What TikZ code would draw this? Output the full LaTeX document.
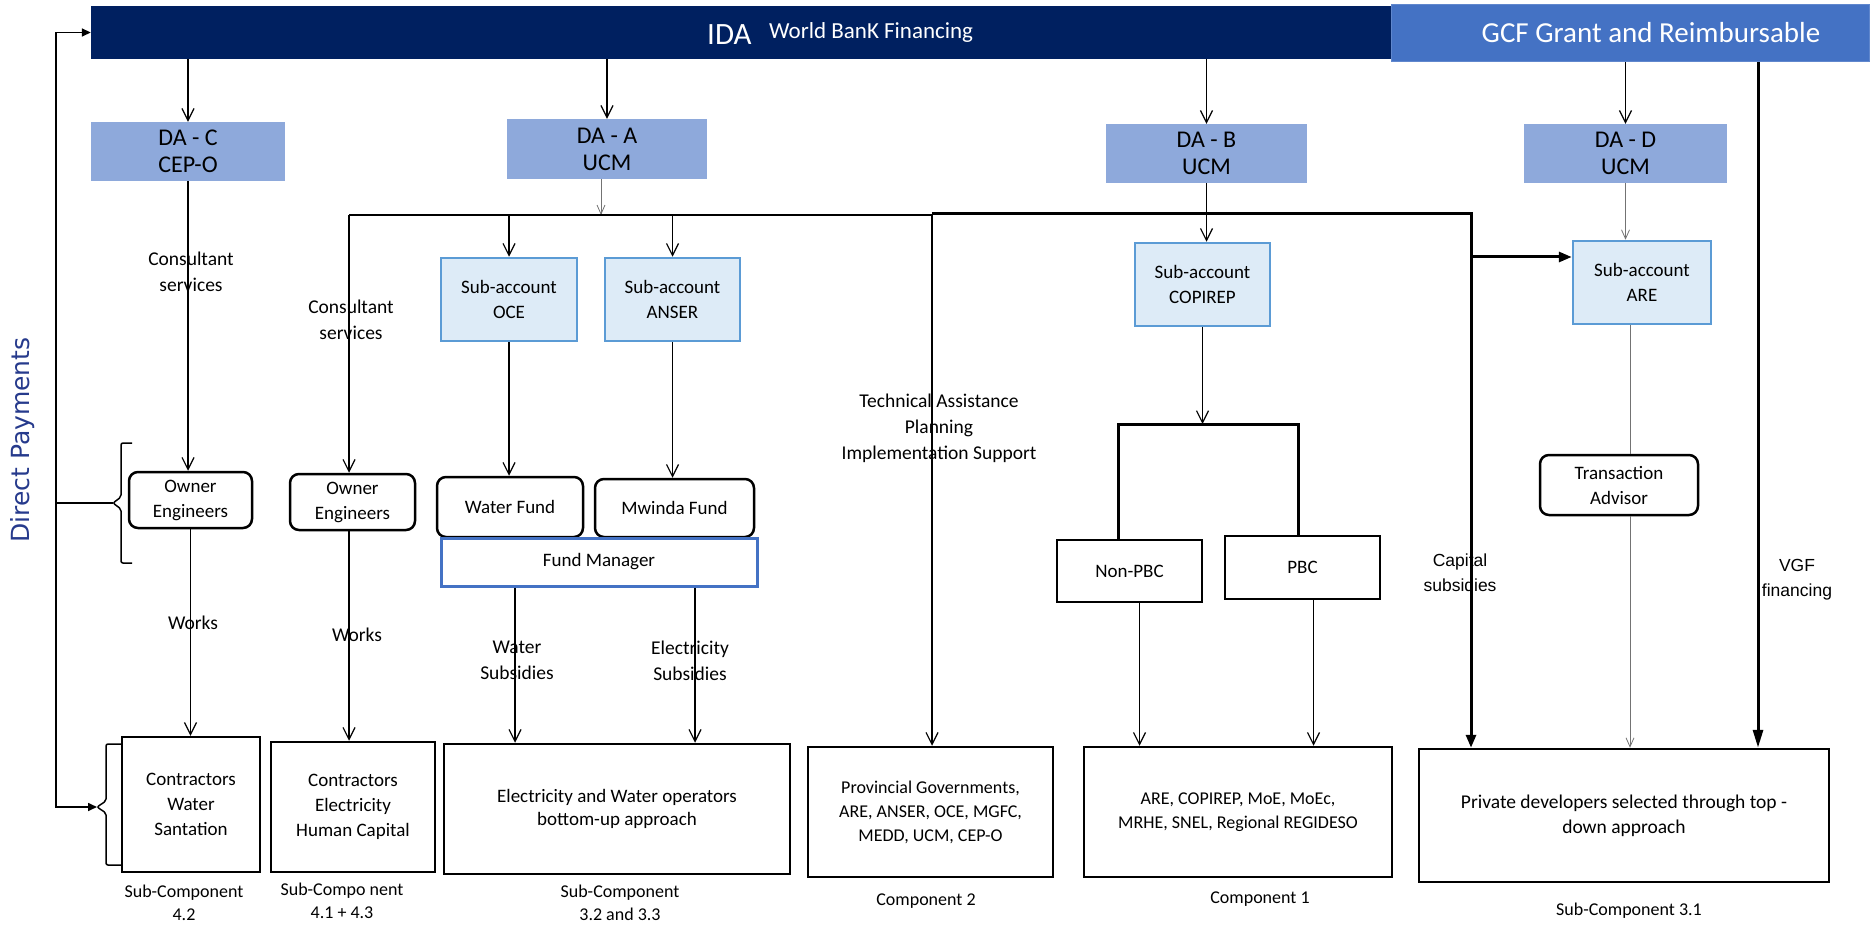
\documentclass[tikz,border=0pt]{standalone}
\usepackage{fontspec}
\setmainfont{Carlito}
\newfontfamily\dvsans{DejaVu Sans}
\newfontfamily\arialf{Liberation Sans}
\usetikzlibrary{arrows.meta}
\definecolor{idablue}{HTML}{002060}
\definecolor{gcfblue}{HTML}{4472C4}
\definecolor{dafill}{HTML}{8EA9DB}
\definecolor{subfill}{HTML}{DDEBF7}
\definecolor{subdraw}{HTML}{5B9BD5}
\definecolor{dptext}{RGB}{38,58,140}
\begin{document}
\begin{tikzpicture}[x=1pt,y=-1pt,
  every node/.style={inner sep=0pt, align=center, font=\fontsize{19}{25}\selectfont},
  dabox/.style={fill=dafill, font=\fontsize{24}{27}\selectfont},
  subbox/.style={fill=subfill, draw=subdraw, line width=2.5pt},
  rbox/.style={draw, line width=2.5pt, rounded corners=9pt},
  sbox/.style={draw, line width=2.5pt},
  fmbox/.style={draw=gcfblue, line width=3pt, fill=white},
  lbl/.style={font=\fontsize{19.5}{26}\selectfont},
  clbl/.style={font=\fontsize{18}{23}\selectfont},
  alabel/.style={font=\arialf\fontsize{17.5}{25}\selectfont},
  arr/.style={draw=black, line width=1.2pt, -{Straight Barb[length=12pt,width=12pt,line width=1.2pt]}},
  plain/.style={draw=black, line width=1.2pt},
  garr/.style={draw=black!55, line width=0.8pt, -{Straight Barb[length=9pt,width=8pt,line width=0.8pt]}},
  gline/.style={draw=black!55, line width=0.8pt},
  tline/.style={draw=black, line width=3pt},
  tarr/.style={draw=black, line width=3pt, -{Triangle[length=13pt,width=10pt]}},
  varr/.style={draw=black, line width=3pt, -{Triangle[length=18pt,width=10pt]}},
  dparr/.style={draw=black, line width=1.6pt, {Triangle[length=9pt,width=8pt]}-{Triangle[length=9pt,width=8pt]}},
  brk/.style={draw=black, line width=1.5pt, rounded corners=2pt}
]
\useasboundingbox (0,0) rectangle (1871,925);

% top bars
\node[fill=idablue, minimum width=1300pt, minimum height=53pt] (ida) at (741,32.5) {};
\node[fill=gcfblue, draw=gcfblue!85!white, line width=1pt, minimum width=478pt, minimum height=57pt] (gcf) at (1630,33.5) {};
\node[anchor=base west, text=white, font=\fontsize{31}{31}\selectfont] (idat) at (707,45) {IDA};
\node[anchor=base west, text=white, font=\fontsize{23}{23}\selectfont] (wbt) at (769,39) {World BanK Financing};
\node[anchor=base, text=white, font=\fontsize{29}{29}\selectfont] (gcft) at (1651,43) {GCF Grant and Reimbursable};

% DA boxes
\node[dabox, minimum width=194pt, minimum height=59pt] (dac) at (188,151.5) {DA - C\\CEP-O};
\node[dabox, minimum width=200pt, minimum height=60pt] (daa) at (607,149) {DA - A\\UCM};
\node[dabox, minimum width=201pt, minimum height=59pt] (dab) at (1206.5,153.5) {DA - B\\UCM};
\node[dabox, minimum width=203pt, minimum height=59pt] (dad) at (1625.5,153.5) {DA - D\\UCM};

% sub-accounts
\node[subbox, minimum width=136pt, minimum height=83pt] (oce) at (509,299.5) {Sub-account\\OCE};
\node[subbox, minimum width=135pt, minimum height=83pt] (anser) at (672.5,299.5) {Sub-account\\ANSER};
\node[subbox, minimum width=135pt, minimum height=83pt] (copirep) at (1202.5,284.5) {Sub-account\\COPIREP};
\node[subbox, minimum width=138pt, minimum height=83pt] (are) at (1642,282.5) {Sub-account\\ARE};

% middle boxes
\node[rbox, minimum width=123pt, minimum height=56pt] (oe1) at (190.5,500) {Owner\\Engineers};
\node[rbox, minimum width=125pt, minimum height=56pt] (oe2) at (352.5,502) {Owner\\Engineers};
\node[rbox, minimum width=146pt, minimum height=60pt] (wf) at (510,507) {Water Fund};
\node[rbox, minimum width=159pt, minimum height=58pt] (mf) at (674.5,508) {Mwinda Fund};
\node[fmbox, minimum width=316pt, minimum height=48pt] (fm) at (599,562) {Fund Manager};
\node[rbox, minimum width=158pt, minimum height=60pt] (ta) at (1619,485) {Transaction\\Advisor};
\node[sbox, minimum width=145pt, minimum height=62pt] (npbc) at (1129.5,571) {Non-PBC};
\node[sbox, minimum width=155pt, minimum height=63pt] (pbc) at (1302.5,567.5) {PBC};

% bottom boxes
\node[sbox, minimum width=138pt, minimum height=135pt] (cws) at (191,804.5) {Contractors\\Water\\Santation};
\node[sbox, minimum width=164pt, minimum height=130pt] (ceh) at (353,807) {Contractors\\Electricity\\Human Capital};
\node[sbox, minimum width=346pt, minimum height=130pt] (ewo) at (617,809) {Electricity and Water operators\\[-2pt]bottom-up approach};
\node[sbox, minimum width=245pt, minimum height=130pt, font=\fontsize{18}{24}\selectfont] (prov) at (930.5,812) {Provincial Governments,\\ARE, ANSER, OCE, MGFC,\\MEDD, UCM, CEP-O};
\node[sbox, minimum width=308pt, minimum height=130pt, font=\fontsize{18}{24}\selectfont] (comp1b) at (1238,812) {ARE, COPIREP, MoE, MoEc,\\MRHE, SNEL, Regional REGIDESO};
\node[sbox, minimum width=410pt, minimum height=133pt, font=\fontsize{19.5}{25}\selectfont] (priv) at (1624,815.5) {Private developers selected through top -\\down approach};

% labels
\node[lbl] (cons1) at (191,272) {Consultant\\services};
\node[lbl] (cons2) at (351,320) {Consultant\\services};
\node[lbl] (works1) at (193,623) {Works};
\node[lbl] (works2) at (357,635) {Works};
\node[lbl] (wsub) at (517,660) {Water\\Subsidies};
\node[lbl] (esub) at (690,661) {Electricity\\Subsidies};
\node[lbl] (tech) at (939,428) {Technical Assistance\\Planning\\Implementation Support};
\node[alabel] (capl) at (1460,573) {Capital\\subsidies};
\node[alabel] (vgfl) at (1797,580) {VGF\\financing};
\node[clbl] (sc42) at (184,903) {Sub-Component\\4.2};
\node[clbl] (sc41) at (342,901) {Sub-Compo nent\\4.1 + 4.3};
\node[clbl] (sc32) at (620,903) {Sub-Component\\3.2 and 3.3};
\node[clbl] (c2) at (926,901) {Component 2};
\node[clbl] (c1) at (1260,899) {Component 1};
\node[clbl] (sc31) at (1629,911) {Sub-Component 3.1};
\node[rotate=90, text=dptext, font=\dvsans\fontsize{25}{25}\selectfont] (dp) at (23,440) {Direct Payments};

% coordinates
\coordinate (busL) at (349,215);
\coordinate (busM) at (932,215);
\coordinate (busR) at (1471,214);
\coordinate (br) at (1471,257);
\coordinate (treeL) at (1118,424);
\coordinate (treeR) at (1298,424);
\coordinate (vgfx) at (1758,0);
\coordinate (arex) at (1630,0);
\coordinate (dpx) at (56,0);
\coordinate (b1tip) at (113,503);
\coordinate (b2tip) at (97,807);

% brackets
\draw[brk] (132,443) -- (121,443) -- (121,497) -- (b1tip) -- (121,509) -- (121,563) -- (132,563);
\draw[brk] (122,744) -- (106,744) -- (106,801) -- (b2tip) -- (106,813) -- (106,865) -- (122,865);

% direct payments
\draw[dparr] (b2tip) -| (dpx |- ida.west) -- (ida.west);
\draw[draw=black, line width=1.6pt] (dpx |- b1tip) -- (b1tip);

% top arrows
\draw[arr] (dac.north |- ida.south) -- (dac.north);
\draw[arr] (daa.north |- ida.south) -- (daa.north);
\draw[arr] (dab.north |- ida.south) -- (dab.north);
\draw[arr] (dad.north |- gcf.south) -- (dad.north);

% DA-C column
\draw[arr] (dac.south) -- (dac.south |- oe1.north);
\draw[arr] (oe1.south) -- (oe1.south |- cws.north);

% DA-A bus
\draw[garr] ([xshift=-6pt]daa.south) -- ([xshift=-6pt]daa.south |- busL);
\draw[plain] (busL) -- (busM);
\draw[arr] (busL) -- (busL |- oe2.north);
\draw[arr] (oce.north |- busL) -- (oce.north);
\draw[arr] (anser.north |- busL) -- (anser.north);
\draw[arr] (busM) -- (busM |- prov.north);
\draw[arr] (busL |- oe2.south) -- (busL |- ceh.north);
\draw[arr] (oce.south) -- (oce.south |- wf.north);
\draw[arr] (anser.south) -- (anser.south |- mf.north);
\draw[arr] ([xshift=-84pt]fm.south) -- ([xshift=-84pt]fm.south |- ewo.north);
\draw[arr] ([xshift=96pt]fm.south) -- ([xshift=96pt]fm.south |- ewo.north);

% thick bus to private developers and ARE
\draw[tline] (busM |- busR) -- (busR) -- (br);
\draw[tarr] (br) -- (busR |- priv.north);
\draw[tarr] (br) -- (br -| are.west);

% DA-B column
\draw[arr] (dab.south) -- (dab.south |- copirep.north);
\draw[arr] (copirep.south) -- (copirep.south |- treeL);
\draw[tline] (treeL |- npbc.north) -- (treeL) -- (treeR) -- (treeR |- pbc.north);
\draw[arr] ([xshift=10pt]npbc.south) -- ([xshift=10pt]npbc.south |- comp1b.north);
\draw[arr] ([xshift=11pt]pbc.south) -- ([xshift=11pt]pbc.south |- comp1b.north);

% DA-D column
\draw[garr] (dad.south) -- (dad.south |- are.north);
\draw[gline] (arex |- are.south) -- (arex |- ta.north);
\draw[garr] (arex |- ta.south) -- (arex |- priv.north);

% VGF
\draw[varr] (vgfx |- gcf.south) -- (vgfx |- priv.north);
\end{tikzpicture}
\end{document}
